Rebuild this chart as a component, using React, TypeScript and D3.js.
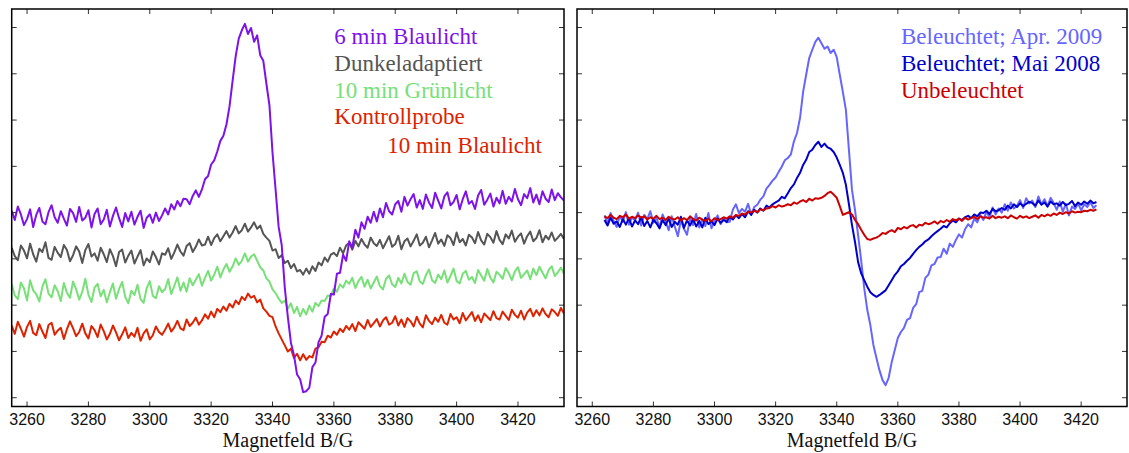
import React from "react";
import * as d3 from "d3";

// ---------- DATA ----------
// Left panel: field 3255..3435 G, 1 G step. Intensity in arbitrary units (tick step 10).
const leftStart = 3255;
const purple6min = [
  40.4, 38.4, 41.3, 39.6, 37.3, 38.6, 40.7, 36.9, 39.5, 41.0,
  38.1, 37.5, 40.1, 41.6, 39.0, 37.8, 40.3, 38.7, 37.2, 40.8,
  39.9, 38.0, 41.2, 38.3, 38.9, 40.5, 36.8, 39.7, 40.9, 37.5,
  38.5, 40.6, 37.0, 39.3, 41.1, 38.8, 36.9, 39.9, 38.1, 40.2,
  37.4, 39.1, 40.4, 36.7, 38.9, 39.6, 37.8, 40.0, 38.2, 39.4,
  40.9, 39.6, 41.8, 40.7, 42.5, 41.4, 43.0, 42.9, 41.8, 43.6,
  44.8, 43.4, 45.0, 47.2, 47.9, 50.4, 51.3, 53.2, 55.5, 56.6,
  59.1, 63.0, 68.5, 73.8, 77.6, 79.4, 80.8, 78.6, 79.9, 76.9,
  78.3, 74.0, 72.8, 67.9, 63.2, 53.0, 45.0, 36.9, 33.0, 23.8,
  17.4, 11.9, 9.2, 5.0, 4.0, 1.2, 1.4, 2.2, 6.6, 7.6,
  12.0, 13.4, 17.5, 18.1, 22.4, 22.3, 26.8, 27.0, 30.9, 29.6,
  33.8, 32.4, 36.3, 34.6, 37.9, 36.5, 39.1, 37.8, 40.2, 38.1,
  40.9, 39.0, 42.1, 40.3, 39.6, 41.8, 42.5, 40.2, 43.4, 41.5,
  42.9, 44.0, 41.1, 42.7, 40.8, 43.9, 42.2, 41.0, 44.3, 42.6,
  40.9, 43.5, 44.4, 41.6, 42.3, 43.8, 40.7, 42.9, 44.6, 41.9,
  42.5, 40.8, 43.7, 44.9, 41.7, 42.8, 44.1, 41.3, 43.2, 42.0,
  44.7, 41.9, 43.4, 42.4, 45.1, 42.9, 41.6, 44.0, 43.1, 45.3,
  42.2, 43.9, 41.8, 44.6, 43.0, 42.3, 45.0, 42.7, 44.2, 43.3, 42.6,
];
const grayDark = [
  32.4, 30.6, 29.7, 32.9, 31.8, 30.1, 33.3, 31.0, 29.4, 32.2,
  31.5, 33.6, 30.2, 29.8, 32.6, 31.3, 30.4, 33.0, 31.9, 29.5,
  30.8, 32.7, 31.6, 29.1, 31.9, 33.2, 30.5, 31.2, 29.6, 32.4,
  31.0, 29.3, 32.1, 30.6, 28.4, 31.5, 32.0, 29.2, 30.7, 31.8,
  29.0, 30.5, 31.9, 28.6, 30.1, 29.3, 31.6, 30.4, 28.8, 31.2,
  30.9, 32.3, 30.0, 31.4, 33.1, 31.6, 30.7, 32.8, 33.4, 31.5,
  32.6, 34.2, 32.9, 33.1, 34.8, 33.0, 34.5, 35.3, 33.8, 34.9,
  36.0, 34.6, 35.7, 37.1, 35.5, 36.2, 37.6, 35.9, 36.8, 37.9,
  36.5, 37.2, 35.4, 34.6, 33.9, 31.8, 32.1, 30.2, 30.8, 29.1,
  29.6, 28.0, 28.9, 27.3, 27.6, 26.6, 27.9, 26.8, 28.4, 27.4,
  29.2, 28.6, 30.3, 29.4, 30.9, 31.3, 30.6, 32.4, 31.2, 32.9,
  33.5, 32.0, 33.9, 32.7, 34.3, 33.1, 32.4, 34.6, 33.4, 32.8,
  34.1, 32.3, 33.6, 34.9, 32.6, 33.2, 35.0, 32.1, 33.8, 34.4,
  32.7, 33.9, 35.3, 32.9, 33.5, 34.8, 32.5, 34.0, 35.6, 33.3,
  34.2, 32.8, 35.1, 34.5, 33.0, 35.7, 33.6, 34.3, 32.9, 35.2,
  34.6, 33.4, 35.8, 34.0, 33.1, 35.4, 34.7, 33.5, 36.0, 34.1,
  33.2, 35.3, 34.4, 36.1, 33.7, 34.8, 35.5, 33.3, 34.9, 35.9,
  33.8, 34.5, 36.2, 33.6, 35.0, 34.2, 35.7, 33.9, 34.6, 35.4, 34.3,
];
const greenLight = [
  24.5, 22.1, 21.3, 24.9, 23.6, 21.0, 25.4, 23.2, 22.4, 20.8,
  24.0, 25.6, 22.5, 21.7, 24.3, 23.0, 20.9, 24.8, 22.7, 21.6,
  25.1, 23.4, 21.2, 22.9, 25.7, 22.3, 20.7, 23.8, 24.6, 21.9,
  23.3, 20.6, 22.8, 24.7, 21.4, 23.5, 25.0, 21.8, 20.4, 23.1,
  22.2, 24.4, 21.3, 20.5, 23.7, 25.2, 22.0, 21.5, 24.1, 22.8,
  23.5, 25.6, 22.4, 24.2, 26.0, 23.1, 24.9, 22.9, 25.8, 24.3,
  25.5, 26.7, 24.2, 25.9, 27.4, 25.3, 26.6, 28.3, 26.0, 27.7,
  28.9, 27.2, 28.4, 30.1, 28.7, 29.6, 31.2, 29.4, 30.5, 31.0,
  29.6, 28.2, 27.5, 25.8, 25.1, 23.4, 22.6, 21.4, 20.5, 21.0,
  19.2, 20.4, 18.3, 19.6, 17.6, 19.2, 18.0, 19.9, 18.6, 20.5,
  19.8, 21.0, 20.9, 22.1, 22.0, 23.6, 22.9, 24.5, 23.8, 25.3,
  24.6, 25.9, 23.7, 25.2, 26.1, 24.0, 25.5, 23.6, 24.9, 26.2,
  24.1, 23.4, 25.7, 26.4, 24.5, 23.9, 25.9, 24.7, 26.8, 25.0,
  24.4, 26.9, 27.3, 25.1, 24.6, 26.5, 27.7, 25.4, 24.8, 26.6,
  25.6, 27.5, 24.9, 26.3, 27.9, 25.2, 24.7, 26.8, 27.4, 25.5,
  26.1, 24.8, 27.6, 26.4, 25.3, 27.8, 26.0, 24.9, 27.2, 26.6,
  25.7, 28.0, 26.9, 25.4, 27.3, 28.2, 25.9, 26.7, 27.5, 25.6,
  27.9, 26.5, 28.3, 27.0, 25.8, 27.6, 28.4, 26.3, 27.1, 28.1, 26.8,
];
const redControl = [
  15.6, 13.8, 16.4, 14.9, 13.2, 15.3, 16.6, 14.0, 13.5, 15.9,
  14.3, 12.9, 15.7, 16.2, 13.6, 14.5, 15.1, 12.7, 14.8, 16.5,
  15.0, 13.3, 14.2, 16.0, 13.9, 12.8, 15.5, 14.6, 13.1, 15.8,
  14.4, 12.6, 13.8, 15.6, 14.1, 12.4, 13.7, 15.2, 12.9, 14.0,
  13.2, 15.1, 12.3, 13.9, 14.8, 12.6, 13.5, 15.4, 14.2, 13.6,
  14.7, 16.0, 14.3, 15.2, 16.6, 15.0, 14.6, 16.9, 15.5, 16.2,
  17.3, 15.8, 16.7, 18.0, 17.1, 18.6, 17.4, 19.2, 18.5, 19.7,
  18.8, 20.3, 19.5, 21.0, 20.2, 21.8, 21.1, 22.5, 21.6, 22.0,
  20.6, 21.2, 19.3, 18.6, 17.7, 17.4, 15.4, 13.9, 12.6, 11.3,
  10.0, 10.6, 8.6, 9.5, 8.1, 9.4, 8.2, 9.0, 8.7, 10.6,
  10.9, 12.1, 12.0, 13.4, 13.0, 14.3, 13.6, 14.9, 14.2, 15.5,
  14.7, 15.9, 14.4, 16.3, 15.6, 14.9, 16.8, 15.3, 16.1, 17.0,
  15.4, 16.7, 17.4, 15.8, 16.2, 17.6, 15.6, 16.9, 15.3, 17.2,
  16.5, 15.4, 17.5, 16.0, 15.2, 17.8, 16.6, 15.9, 17.3, 16.4,
  17.9, 16.2, 15.8, 18.1, 16.9, 17.4, 16.1, 18.3, 16.7, 17.6,
  18.5, 16.6, 17.8, 16.3, 18.2, 17.5, 16.8, 18.7, 17.2, 16.9,
  18.6, 17.7, 16.8, 19.0, 17.9, 17.3, 18.8, 16.9, 18.4, 19.2,
  17.6, 18.9, 17.8, 19.3, 18.1, 17.4, 19.1, 18.5, 17.7, 19.4, 18.2,
];

// Right panel: field 3264..3425 G, 1 G step.
const rightStart = 3264;
const apr2009 = [
  39.4, 37.6, 39.9, 38.2, 36.9, 39.3, 38.0, 40.1, 37.4, 39.0,
  38.3, 40.0, 37.2, 39.5, 38.6, 40.3, 37.8, 38.9, 36.8, 39.6,
  38.1, 36.2, 39.2, 37.0, 34.9, 38.4, 36.5, 35.2, 38.8, 37.3,
  39.7, 36.8, 38.6, 37.1, 39.9, 36.6, 38.2, 39.4, 37.5, 38.8,
  37.9, 38.0, 40.6, 41.8, 39.9, 40.8, 40.2, 41.9, 39.6, 41.2,
  41.7, 42.8, 43.5, 45.2, 46.0, 46.9, 47.6, 48.8, 49.9, 51.3,
  51.8, 52.6, 55.4, 57.2, 60.5, 66.1, 69.8, 73.4, 75.2, 76.9,
  77.8, 76.6, 75.4, 75.9, 74.5, 75.2, 73.6, 69.8, 66.1, 62.2,
  53.5, 44.9, 40.5, 35.1, 29.7, 23.7, 19.0, 15.7, 11.4, 8.6,
  5.9, 3.8, 2.7, 4.3, 7.7, 10.3, 12.9, 14.2, 15.1, 16.8,
  17.2, 19.4, 20.2, 22.8, 23.1, 25.9, 26.6, 28.6, 28.9, 30.3,
  30.4, 32.2, 31.1, 33.3, 32.6, 34.1, 35.3, 34.6, 36.4, 37.5,
  36.8, 38.7, 37.9, 39.5, 38.4, 40.2, 39.0, 41.1, 39.6, 40.9,
  40.0, 41.8, 40.4, 42.2, 40.9, 41.5, 42.7, 41.0, 43.1, 42.0,
  42.6, 41.2, 43.5, 41.8, 42.9, 41.4, 43.2, 42.1, 40.6, 42.4,
  40.2, 41.9, 39.4, 41.3, 40.8, 42.0, 40.5, 41.8, 41.2, 42.3,
  41.0, 41.6,
];
const mai2008 = [
  38.4, 37.2, 38.9, 37.6, 38.1, 36.9, 38.6, 37.4, 38.8, 37.0,
  38.3, 37.5, 39.0, 37.1, 38.2, 36.8, 38.5, 37.7, 36.6, 38.4,
  37.3, 38.7, 36.9, 38.0, 37.4, 39.1, 36.7, 38.3, 37.2, 38.6,
  37.0, 38.2, 36.8, 38.9, 37.5, 38.1, 37.3, 38.7, 37.8, 38.4,
  38.0, 39.1, 38.5, 39.4, 38.8, 39.7, 39.0, 40.3, 39.5, 40.6,
  40.0, 40.9, 40.4, 41.5, 41.1, 41.8, 42.2, 42.6, 43.4, 43.1,
  44.2, 45.3, 46.1, 47.5, 48.6, 50.3, 51.4, 53.1, 53.6, 54.6,
  55.3, 54.2, 54.9, 54.1, 53.8, 53.1, 51.9, 50.3, 48.6, 46.0,
  41.8, 37.3, 33.6, 29.3, 26.9, 25.4, 24.0, 22.8, 22.2, 21.8,
  22.2, 22.7, 23.2, 24.3, 25.4, 26.5, 27.3, 28.4, 28.9, 29.6,
  30.2, 31.1, 31.9, 32.6, 33.1, 33.8, 34.2, 34.9, 35.5, 36.0,
  36.5, 37.1, 36.8, 37.7, 38.3, 37.9, 38.7, 38.4, 39.0, 39.3,
  38.8, 39.6, 39.2, 40.0, 39.9, 40.4, 39.7, 40.8, 40.3, 40.5,
  41.0, 40.6, 41.5, 40.9, 41.8, 41.2, 42.0, 41.4, 41.9, 42.3,
  42.1, 41.5, 42.6, 41.7, 42.2, 41.3, 42.4, 41.8, 42.0, 41.5,
  42.3, 41.6, 41.9, 42.5, 41.4, 42.2, 41.7, 42.4, 41.9, 42.6,
  42.0, 42.3,
];
const unbeleuchtet = [
  39.2, 38.8, 39.5, 38.9, 38.6, 39.3, 39.0, 39.6, 38.7, 39.1,
  38.8, 39.4, 38.9, 39.2, 38.5, 39.0, 38.7, 39.3, 38.6, 38.9,
  38.4, 39.1, 38.7, 38.5, 39.0, 38.3, 38.8, 38.4, 39.2, 38.6,
  38.3, 38.9, 38.5, 38.2, 38.7, 38.1, 38.8, 38.4, 38.6, 39.0,
  38.7, 39.2, 38.9, 39.5, 39.3, 39.8, 39.6, 40.2, 40.0, 40.4,
  40.1, 40.7, 40.5, 40.9, 41.0, 41.4, 41.1, 41.6, 41.3, 41.5,
  41.8, 41.6, 42.2, 41.9, 42.4, 42.7, 42.3, 43.0, 42.6, 43.1,
  43.0, 43.2, 43.6, 44.2, 44.5, 43.9, 43.2, 41.4, 39.5, 39.8,
  40.1, 39.6, 38.4, 37.5, 36.3, 35.2, 34.3, 34.1, 34.4, 34.6,
  35.0, 35.6, 35.4, 35.9, 36.2, 35.8, 36.7, 36.4, 36.9, 36.6,
  37.1, 37.3, 36.8, 37.4, 37.2, 37.8, 37.5, 37.7, 38.1, 37.6,
  38.2, 37.9, 38.4, 38.0, 38.6, 38.3, 38.7, 38.2, 38.9, 38.5,
  38.8, 39.1, 38.6, 39.2, 38.9, 39.0, 38.7, 39.3, 38.8, 39.1,
  38.9, 39.2, 38.8, 39.4, 39.0, 38.7, 39.3, 38.9, 39.2, 38.8,
  39.1, 39.4, 38.9, 39.5, 39.2, 39.6, 39.3, 39.8, 39.5, 40.0,
  39.7, 40.1, 39.8, 40.3, 40.0, 40.2, 40.1, 40.4, 40.3, 40.6,
  40.4, 40.7,
];

const xTicks = [3260, 3280, 3300, 3320, 3340, 3360, 3380, 3400, 3420];
const yTicks = [0, 10, 20, 30, 40, 50, 60, 70, 80];
const xDomain: [number, number] = [3255, 3435];
const yDomain: [number, number] = [-1.9, 84.0];
const xLabel = "Magnetfeld B/G";

const leftSeries = [
  { name: "Kontrollprobe", values: redControl, color: "#dd2200" },
  { name: "10 min Grünlicht", values: greenLight, color: "#77e077" },
  { name: "Dunkeladaptiert", values: grayDark, color: "#555555" },
  { name: "6 min Blaulicht", values: purple6min, color: "#7d12ea" },
];
const leftLegend = [
  { text: "6 min Blaulicht", color: "#7d12ea", indent: 0 },
  { text: "Dunkeladaptiert", color: "#555555", indent: 0 },
  { text: "10 min Grünlicht", color: "#77e077", indent: 0 },
  { text: "Kontrollprobe", color: "#dd2200", indent: 0 },
  { text: "10 min Blaulicht", color: "#dd2200", indent: 53 },
];
const rightSeries = [
  { name: "Beleuchtet; Apr. 2009", values: apr2009, color: "#6666ff" },
  { name: "Beleuchtet; Mai 2008", values: mai2008, color: "#0000cc" },
  { name: "Unbeleuchtet", values: unbeleuchtet, color: "#cc0000" },
];
const rightLegend = [
  { text: "Beleuchtet; Apr. 2009", color: "#6666ff", indent: 0 },
  { text: "Beleuchtet; Mai 2008", color: "#0000cc", indent: 0 },
  { text: "Unbeleuchtet", color: "#cc0000", indent: 0 },
];

type Series = { name: string; values: number[]; color: string };
type Leg = { text: string; color: string; indent: number };

function Panel(props: {
  x0: number; x1: number; y0: number; y1: number;
  series: Series[]; start: number; legend: Leg[]; legendX: number;
}) {
  const { x0, x1, y0, y1, series, start, legend, legendX } = props;
  const x = d3.scaleLinear().domain(xDomain).range([x0, x1]);
  const y = d3.scaleLinear().domain(yDomain).range([y1, y0]);
  const line = d3
    .line<number>()
    .x((_, i) => x(start + i))
    .y((d) => y(d));
  const tl = 5;
  const cid = `clip${Math.round(x0)}`;
  return (
    <g>
      <defs>
        <clipPath id={cid}>
          <rect x={x0} y={y0} width={x1 - x0} height={y1 - y0} />
        </clipPath>
      </defs>
      <g clipPath={`url(#${cid})`}>
        {series.map((s) => (
          <path
            key={s.name}
            d={line(s.values) || ""}
            fill="none"
            stroke={s.color}
            strokeWidth={2}
            strokeLinejoin="round"
          />
        ))}
      </g>
      {xTicks.map((t) => (
        <g key={"x" + t}>
          <line x1={x(t)} x2={x(t)} y1={y1} y2={y1 - tl} stroke="#333" strokeWidth={1} />
          <line x1={x(t)} x2={x(t)} y1={y0} y2={y0 + tl} stroke="#333" strokeWidth={1} />
          <text
            x={x(t)}
            y={425}
            textAnchor="middle"
            fontFamily="Liberation Sans, Arial, sans-serif"
            fontSize={16}
            fill="#111"
          >
            {t}
          </text>
        </g>
      ))}
      {yTicks.map((t) => (
        <g key={"y" + t}>
          <line x1={x0} x2={x0 + tl} y1={y(t)} y2={y(t)} stroke="#333" strokeWidth={1} />
          <line x1={x1} x2={x1 - tl} y1={y(t)} y2={y(t)} stroke="#333" strokeWidth={1} />
        </g>
      ))}
      <rect x={x0} y={y0} width={x1 - x0} height={y1 - y0} fill="none" stroke="#000" strokeWidth={1.5} />
      <text
        x={(x0 + x1) / 2}
        y={446.5}
        textAnchor="middle"
        fontFamily="Liberation Serif, Times New Roman, serif"
        fontSize={20}
        fill="#111"
      >
        {xLabel}
      </text>
      {legend.map((l, i) => (
        <text
          key={l.text + i}
          x={legendX + l.indent}
          y={44.3 + i * 26.7 + (i === 4 ? 1.7 : 0)}
          fontFamily="Liberation Serif, Times New Roman, serif"
          fontSize={23}
          fill={l.color}
        >
          {l.text}
        </text>
      ))}
    </g>
  );
}

export default function App() {
  return (
    <svg
      width={1129}
      height={453}
      style={{ position: "absolute", left: 0, top: 0, background: "#fff" }}
    >
      <rect x={0} y={0} width={1129} height={453} fill="#fff" />
      <Panel x0={11.7} x1={564} y0={9} y1={406.5} series={leftSeries} start={leftStart} legend={leftLegend} legendX={334.3} />
      <Panel x0={577} x1={1127} y0={9} y1={406.5} series={rightSeries} start={rightStart} legend={rightLegend} legendX={901} />
    </svg>
  );
}
